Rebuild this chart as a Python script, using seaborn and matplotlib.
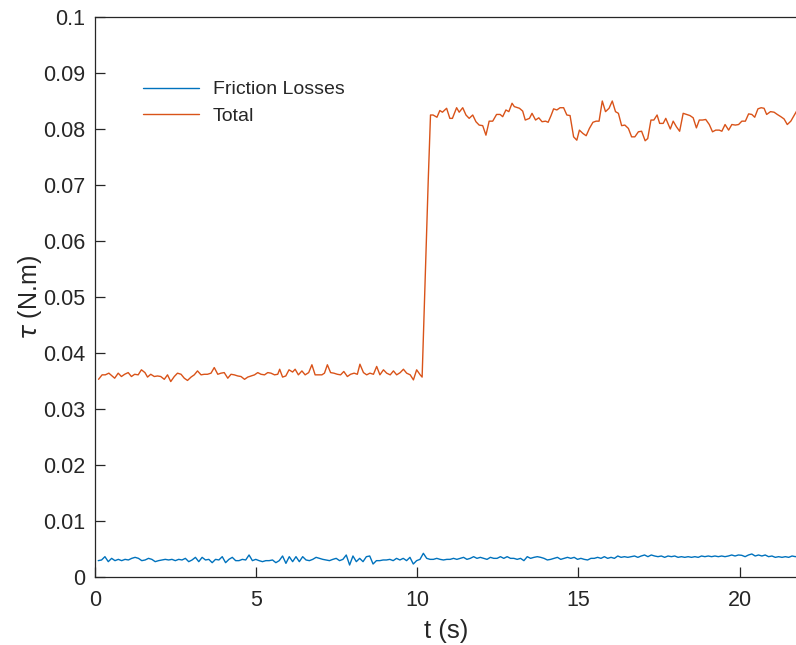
import numpy as np
import pandas as pd
import matplotlib
matplotlib.use("Agg")
import matplotlib.pyplot as plt
import seaborn as sns

# ---------------- data ----------------
series_names = ["Friction Losses", "Total"]
series_colors = ["#0072BD", "#D95319"]

# Friction losses (mN.m), sampled every ~0.104 s starting at t = 0.1 s
friction_mNm = [
    2.92, 3.04, 3.63, 2.74, 3.33, 2.92, 3.15, 2.92, 3.15, 3.04,
    3.33, 3.51, 3.33, 2.92, 3.04, 3.33, 3.15, 2.74, 2.92, 3.04,
    3.15, 3.04, 3.15, 2.92, 3.15, 3.04, 3.33, 2.74, 3.04, 3.51,
    2.74, 3.51, 3.04, 3.15, 2.56, 3.15, 3.04, 3.63, 2.56, 3.15,
    3.51, 2.92, 2.92, 3.15, 3.04, 3.93, 2.92, 3.15, 2.92, 2.74,
    2.92, 2.92, 3.04, 2.56, 2.92, 3.75, 2.44, 3.63, 2.74, 3.63,
    2.74, 3.63, 3.04, 2.92, 3.15, 3.51, 3.33, 3.15, 3.04, 2.92,
    3.15, 3.33, 2.92, 3.15, 3.93, 2.14, 3.75, 2.74, 3.33, 2.74,
    3.63, 3.75, 2.32, 2.92, 2.92, 3.04, 3.04, 3.15, 2.92, 3.33,
    3.04, 3.33, 2.92, 3.51, 2.32, 2.92, 3.15, 4.23, 3.33, 3.15,
    3.15, 3.33, 3.15, 3.04, 3.15, 3.15,
    3.33, 3.15, 3.33, 3.51, 3.15, 3.33, 3.63, 3.33, 3.51, 3.33,
    3.15, 3.51, 3.33, 3.33, 3.63, 3.33, 3.63, 3.33, 3.33, 3.15,
    3.33, 2.92, 3.63, 3.33, 3.51, 3.63, 3.51, 3.33, 3.04, 3.15,
    3.33, 3.51, 3.15, 3.33, 3.51, 3.33, 3.51, 3.15, 3.33, 3.15,
    3.04, 3.33, 3.33, 3.51, 3.33, 3.63, 3.33, 3.51, 3.33, 3.75,
    3.51, 3.63, 3.51, 3.63, 3.75, 3.51, 3.75, 3.93, 3.63, 3.93,
    3.75, 3.63, 3.75, 3.51, 3.75, 3.63, 3.75, 3.51, 3.63, 3.51,
    3.63, 3.51, 3.63, 3.51, 3.75, 3.63, 3.75, 3.63, 3.75, 3.63,
    3.75, 3.63, 3.75, 3.93, 3.75, 3.93, 3.87, 3.63, 3.93, 4.11,
    3.75, 3.93, 3.75, 3.93, 3.63, 3.75, 3.51, 3.63, 3.51, 3.63,
    3.51, 3.75, 3.63, 3.75, 3.33,
]
friction_t0 = 0.1
friction_dt = 0.104

# Total torque (mN.m) with its sample times (s)
total_t = [
    0.11, 0.22, 0.32, 0.43, 0.53, 0.61, 0.72, 0.82, 0.92, 1.03,
    1.13, 1.23, 1.34, 1.44, 1.55, 1.63, 1.73, 1.84, 1.94, 2.04,
    2.15, 2.25, 2.35, 2.46, 2.56, 2.67, 2.77, 2.87, 2.98, 3.08,
    3.18, 3.29, 3.39, 3.49, 3.60, 3.70, 3.81, 3.91, 4.01, 4.12,
    4.22, 4.32, 4.43, 4.53, 4.64, 4.74, 4.84, 4.95, 5.05, 5.15,
    5.26, 5.36, 5.46, 5.57, 5.67, 5.73, 5.82, 5.92, 6.02, 6.13,
    6.21, 6.31, 6.42, 6.52, 6.63, 6.73, 6.83, 6.94, 7.04, 7.12,
    7.21, 7.31, 7.41, 7.52, 7.62, 7.72, 7.83, 7.93, 8.04, 8.14,
    8.22, 8.33, 8.43, 8.53, 8.64, 8.74, 8.84, 8.95, 9.05, 9.16,
    9.26, 9.36, 9.47, 9.57, 9.67, 9.78, 9.88, 9.98, 10.09, 10.15,
    10.34,
    10.41, 10.49, 10.61, 10.70, 10.78, 10.91, 11.01, 11.09, 11.22, 11.30,
    11.41, 11.51, 11.61, 11.72, 11.82, 11.92, 12.03, 12.13, 12.23, 12.34,
    12.46, 12.57, 12.65, 12.75, 12.84, 12.94, 13.01, 13.17, 13.27, 13.35,
    13.48, 13.56, 13.67, 13.77, 13.87, 13.98, 14.06, 14.15,
    14.23, 14.33, 14.43, 14.54, 14.64, 14.74, 14.85, 14.95, 15.03, 15.14,
    15.24, 15.34, 15.45, 15.55, 15.64, 15.74, 15.84, 15.95, 16.05, 16.15,
    16.24, 16.34, 16.44, 16.55, 16.65, 16.75, 16.86, 16.96, 17.07, 17.15,
    17.25, 17.34, 17.44, 17.52, 17.63, 17.71, 17.85,
    17.94, 18.04, 18.14, 18.25, 18.35, 18.46, 18.56, 18.66, 18.75, 18.85,
    18.95, 19.06, 19.16, 19.26, 19.37, 19.45, 19.55, 19.66, 19.76, 19.87,
    19.97, 20.07, 20.18, 20.28, 20.38, 20.47, 20.57, 20.67, 20.76, 20.84,
    20.96, 21.07, 21.17, 21.28, 21.38, 21.48, 21.59, 21.69, 21.79, 21.86,
]
total_mNm = [
    35.3, 36.1, 36.1, 36.4, 35.9, 35.5, 36.4, 35.8, 36.2, 36.5,
    35.8, 36.2, 36.1, 37.0, 36.5, 35.7, 36.2, 35.8, 35.9, 35.8,
    35.3, 36.1, 34.9, 35.8, 36.4, 36.2, 35.5, 35.1, 35.7, 36.1,
    36.8, 36.1, 36.2, 36.2, 36.4, 37.4, 36.2, 36.4, 36.5, 35.5,
    36.2, 36.1, 35.9, 35.8, 35.3, 35.7, 35.9, 36.1, 36.5, 36.2,
    36.1, 36.5, 36.4, 36.1, 36.2, 37.1, 35.7, 35.9, 37.0, 36.6,
    37.1, 36.1, 36.8, 36.1, 36.5, 37.9, 36.1, 36.1, 36.1, 36.4,
    37.9, 36.5, 36.4, 36.2, 36.1, 36.7, 35.8, 36.2, 36.4, 36.2,
    38.0, 36.5, 36.1, 36.4, 36.2, 37.6, 36.1, 37.0, 36.4, 36.1,
    36.8, 36.1, 36.5, 37.1, 36.4, 36.1, 35.2, 37.0, 36.1, 35.7,
    70.9,
    82.5, 82.5, 82.1, 83.3, 83.0, 83.7, 81.9, 81.9, 83.8, 83.0,
    83.8, 82.5, 81.9, 82.5, 81.3, 80.7, 80.6, 78.9, 81.4, 81.4,
    82.6, 82.6, 82.2, 83.4, 83.1, 84.6, 84.0, 83.7, 83.2, 81.6,
    81.9, 82.8, 81.6, 82.0, 81.3, 81.4, 81.2, 82.4,
    83.6, 83.4, 83.8, 83.8, 82.5, 82.4, 78.6, 78.0, 79.8, 79.2,
    78.8, 80.1, 81.2, 81.4, 81.4, 85.0, 83.1, 83.7, 85.0, 83.1,
    82.8, 80.6, 80.7, 80.1, 78.6, 78.6, 79.5, 79.6, 77.9, 78.3,
    81.6, 81.6, 82.5, 81.0, 81.0, 81.9, 80.0,
    81.4, 80.4, 79.6, 82.8, 82.6, 82.4, 82.0, 80.2, 81.6, 81.6,
    81.7, 80.8, 79.5, 79.8, 79.8, 79.6, 80.8, 79.8, 80.8, 80.7,
    80.8, 81.4, 81.4, 82.7, 82.6, 82.1, 83.6, 83.8, 83.7, 82.6,
    83.1, 83.0, 82.6, 82.2, 81.8, 80.8, 81.4, 82.4, 83.4, 82.8,
]

x_ticks = [0, 5, 10, 15, 20]
x_tick_labels = ["0", "5", "10", "15", "20"]
y_ticks = [0, 0.01, 0.02, 0.03, 0.04, 0.05, 0.06, 0.07, 0.08, 0.09, 0.1]
y_tick_labels = ["0", "0.01", "0.02", "0.03", "0.04", "0.05", "0.06",
                 "0.07", "0.08", "0.09", "0.1"]
x_label = "t (s)"
y_label = r"$\tau$ (N.m)"

# ---------------- build frames ----------------
friction_t = friction_t0 + friction_dt * np.arange(len(friction_mNm))
df_f = pd.DataFrame({"t": friction_t, "tau": np.array(friction_mNm) / 1000.0})
df_t = pd.DataFrame({"t": total_t, "tau": np.array(total_mNm) / 1000.0})

# ---------------- style ----------------
sns.set_style("ticks")
plt.rcParams["font.family"] = ["Liberation Sans", "DejaVu Sans"]
plt.rcParams["mathtext.fontset"] = "dejavusans"

axis_col = "#262626"

fig = plt.figure(figsize=(7.96, 6.45), dpi=100)
ax = fig.add_axes([95 / 796, 68 / 645, 1 - 95 / 796 + 0.002, 560 / 645])

sns.lineplot(data=df_f, x="t", y="tau", ax=ax, color=series_colors[0],
             linewidth=1.0, label=series_names[0])
sns.lineplot(data=df_t, x="t", y="tau", ax=ax, color=series_colors[1],
             linewidth=1.0, label=series_names[1])

ax.set_xlim(0, 21.8)
ax.set_ylim(0, 0.1)
ax.set_xticks(x_ticks)
ax.set_xticklabels(x_tick_labels)
ax.set_yticks(y_ticks)
ax.set_yticklabels(y_tick_labels)

ax.tick_params(axis="both", direction="in", length=7, width=0.9,
               colors=axis_col, labelsize=15.5)
ax.tick_params(axis="x", pad=9)
ax.tick_params(axis="y", pad=7)
for lab in ax.get_xticklabels() + ax.get_yticklabels():
    lab.set_color(axis_col)

for side in ["left", "bottom", "top"]:
    ax.spines[side].set_visible(True)
    ax.spines[side].set_color(axis_col)
    ax.spines[side].set_linewidth(0.9)
ax.spines["right"].set_visible(False)

ax.set_xlabel(x_label, fontsize=18.5, color=axis_col, labelpad=6)
ax.set_ylabel(y_label, fontsize=18, color=axis_col, labelpad=-1)

leg = ax.legend(loc="upper left", bbox_to_anchor=(0.057, 0.9), frameon=False,
                fontsize=14, handlelength=2.9, handletextpad=0.7,
                labelspacing=0.45, borderaxespad=0)
for txt in leg.get_texts():
    txt.set_color(axis_col)

fig.savefig("out.png", dpi=100)
